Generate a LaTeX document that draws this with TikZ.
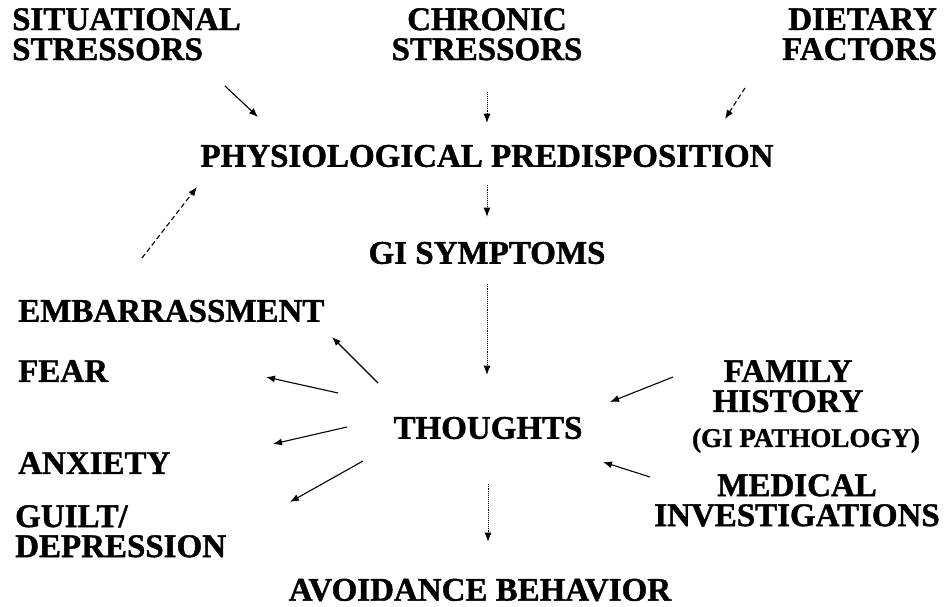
\documentclass[tikz,border=0pt]{standalone}
\usepackage{fontspec}
\setmainfont{Liberation Serif}[BoldFeatures={FakeBold=1.2}]
\usetikzlibrary{arrows.meta}

\begin{document}
\begin{tikzpicture}[x=1pt, y=-1pt,
                    lbl/.style={font=\fontsize{33}{30}\selectfont\bfseries, inner sep=0pt},
                    small/.style={font=\fontsize{27}{28}\selectfont\bfseries, inner sep=0pt},
                    arr/.style={-{Latex[length=9pt,width=7pt]}, line width=1.1pt},
                    dotarr/.style={arr, densely dotted, line width=0.8pt},
                    dasharr/.style={arr, dash pattern=on 5pt off 3pt}]
    \useasboundingbox (0,0) rectangle (944,607);

    % Causes at the top
    \node[lbl, anchor=north west, align=left] (situational) at (12,8) {SITUATIONAL\\STRESSORS};
    \node[lbl, anchor=north, align=center] (chronic) at (487,8) {CHRONIC\\STRESSORS};
    \node[lbl, anchor=north east, align=right] (dietary) at (937,8) {DIETARY\\FACTORS};

    % Middle column
    \node[lbl] (predisposition) at (487,156) {PHYSIOLOGICAL PREDISPOSITION};
    \node[lbl] (symptoms) at (487,253) {GI SYMPTOMS};
    \node[lbl] (thoughts) at (488,428) {THOUGHTS};
    \node[lbl] (avoidance) at (480,590) {AVOIDANCE BEHAVIOR};

    % Feelings on the left
    \node[lbl, anchor=west] (embarrassment) at (18,311) {EMBARRASSMENT};
    \node[lbl, anchor=west] (fear) at (18,371) {FEAR};
    \node[lbl, anchor=west] (anxiety) at (18,463) {ANXIETY};
    \node[lbl, anchor=north west, align=left] (guilt) at (15,505) {GUILT/\\DEPRESSION};

    % Inputs on the right
    \node[lbl, anchor=north, align=center] (family) at (788,360) {FAMILY\\HISTORY};
    \node[small, anchor=north] (pathology) at (806,428) {(GI PATHOLOGY)};
    \node[lbl, anchor=north east, align=center] (medical) at (940,474) {MEDICAL\\INVESTIGATIONS};

    % Free arrow ends
    \coordinate (sit-tail) at (225,86);
    \coordinate (sit-tip) at (258,117);
    \coordinate (diet-tail) at (745,88);
    \coordinate (diet-tip) at (725,119);
    \coordinate (emb-tail) at (378,383);
    \coordinate (emb-tip) at (332,337);
    \coordinate (fear-tail) at (338,393);
    \coordinate (fear-tip) at (266,377);
    \coordinate (anx-tail) at (347,427);
    \coordinate (anx-tip) at (273,444);
    \coordinate (guilt-tail) at (363,461);
    \coordinate (guilt-tip) at (290,502);
    \coordinate (fam-tail) at (673,377);
    \coordinate (fam-tip) at (610,402);
    \coordinate (med-tail) at (650,477);
    \coordinate (med-tip) at (603,462);
    \coordinate (back-tail) at (142,258);
    \coordinate (back-tip) at (197,187);

    % Arrows
    \draw[arr] (sit-tail) -- (sit-tip);
    \draw[dotarr, shorten <=31pt, shorten >=22pt] (chronic.south) -- (predisposition.north);
    \draw[dasharr] (diet-tail) -- (diet-tip);
    \draw[dotarr, shorten <=18pt, shorten >=25pt] (predisposition.south) -- (symptoms.north);
    \draw[dotarr, shorten <=20pt, shorten >=42pt] (symptoms.south) -- (symptoms.south |- thoughts.north);
    \draw[dotarr, shorten <=45pt, shorten >=37pt] (thoughts.south) -- (thoughts.south |- avoidance.north);
    \draw[arr] (emb-tail) -- (emb-tip);
    \draw[arr] (fear-tail) -- (fear-tip);
    \draw[arr] (anx-tail) -- (anx-tip);
    \draw[arr] (guilt-tail) -- (guilt-tip);
    \draw[arr] (fam-tail) -- (fam-tip);
    \draw[arr] (med-tail) -- (med-tip);
    \draw[dasharr] (back-tail) -- (back-tip);
\end{tikzpicture}
\end{document}
